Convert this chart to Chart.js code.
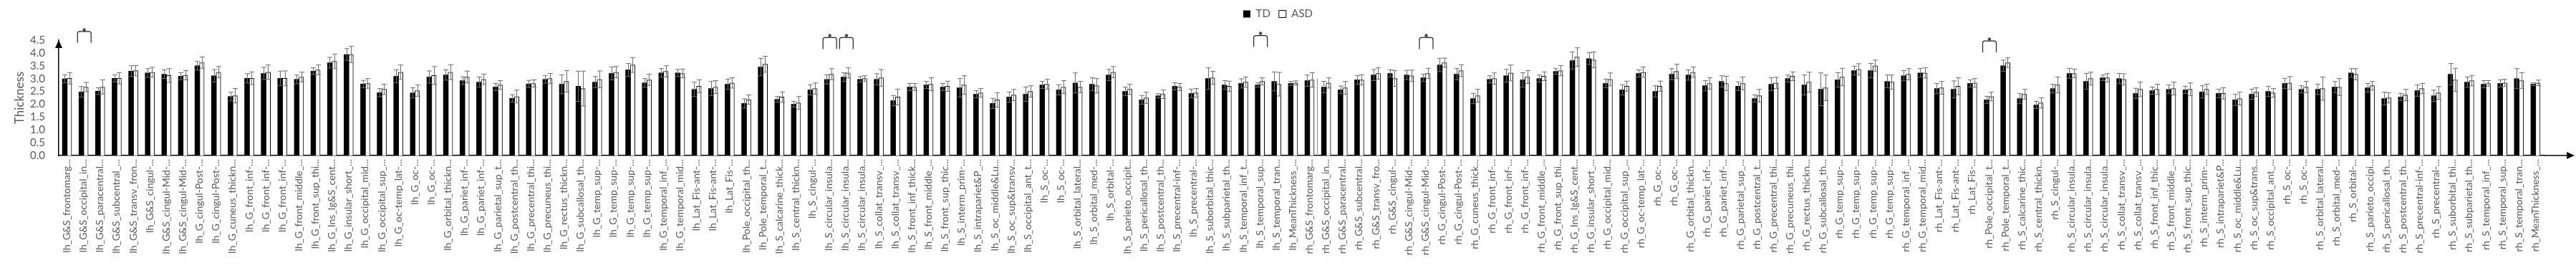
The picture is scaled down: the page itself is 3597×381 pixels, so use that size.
<!DOCTYPE html>
<html lang="en">
<head>
<meta charset="UTF-8">
<title>Cortical thickness TD vs ASD</title>
<script src="https://cdn.jsdelivr.net/npm/chart.js"></script>
<style>
  html, body { margin: 0; padding: 0; background: #fff; }
  #wrap { width: 3597px; height: 381px; }
</style>
</head>
<body>
<div id="wrap"><canvas id="thickChart" width="3597" height="381"></canvas></div>
<script>
// category labels, as shown (truncated) under the axis
const lhLabels = [
  "lh_G&S_frontomarg...", "lh_G&S_occipital_in...", "lh_G&S_paracentral...", "lh_G&S_subcentral_...",
  "lh_G&S_transv_fron...", "lh_G&S_cingul-...", "lh_G&S_cingul-Mid-...", "lh_G&S_cingul-Mid-...",
  "lh_G_cingul-Post-...", "lh_G_cingul-Post-...", "lh_G_cuneus_thickn...", "lh_G_front_inf-...",
  "lh_G_front_inf-...", "lh_G_front_inf-...", "lh_G_front_middle_...", "lh_G_front_sup_thi...",
  "lh_G_Ins_lg&S_cent...", "lh_G_insular_short_...", "lh_G_occipital_mid...", "lh_G_occipital_sup_...",
  "lh_G_oc-temp_lat-...", "lh_G_oc-...", "lh_G_oc-...", "lh_G_orbital_thickn...",
  "lh_G_pariet_inf-...", "lh_G_pariet_inf-...", "lh_G_parietal_sup_t...", "lh_G_postcentral_th...",
  "lh_G_precentral_thi...", "lh_G_precuneus_thi...", "lh_G_rectus_thickn...", "lh_G_subcallosal_th...",
  "lh_G_temp_sup-...", "lh_G_temp_sup-...", "lh_G_temp_sup-...", "lh_G_temp_sup-...",
  "lh_G_temporal_inf_...", "lh_G_temporal_mid...", "lh_Lat_Fis-ant-...", "lh_Lat_Fis-ant-...",
  "lh_Lat_Fis-...", "lh_Pole_occipital_th...", "lh_Pole_temporal_t...", "lh_S_calcarine_thick...",
  "lh_S_central_thickn...", "lh_S_cingul-...", "lh_S_circular_insula...", "lh_S_circular_insula...",
  "lh_S_circular_insula...", "lh_S_collat_transv_...", "lh_S_collat_transv_...", "lh_S_front_inf_thick...",
  "lh_S_front_middle_...", "lh_S_front_sup_thic...", "lh_S_interm_prim-...", "lh_S_intrapariet&P_...",
  "lh_S_oc_middle&Lu...", "lh_S_oc_sup&transv...", "lh_S_occipital_ant_t...", "lh_S_oc-...",
  "lh_S_oc-...", "lh_S_orbital_lateral...", "lh_S_orbital_med-...", "lh_S_orbital-...",
  "lh_S_parieto_occipit...", "lh_S_pericallosal_th...", "lh_S_postcentral_th...", "lh_S_precentral-inf-...",
  "lh_S_precentral-...", "lh_S_suborbital_thic...", "lh_S_subparietal_th...", "lh_S_temporal_inf_t...",
  "lh_S_temporal_sup...", "lh_S_temporal_tran...", "lh_MeanThickness_..."
];
const rhLabels = [
  "rh_G&S_frontomarg...", "rh_G&S_occipital_in...", "rh_G&S_paracentral...", "rh_G&S_subcentral...",
  "rh_G&S_transv_fro...", "rh_G&S_cingul-...", "rh_G&S_cingul-Mid-...", "rh_G&S_cingul-Mid-...",
  "rh_G_cingul-Post-...", "rh_G_cingul-Post-...", "rh_G_cuneus_thick...", "rh_G_front_inf-...",
  "rh_G_front_inf-...", "rh_G_front_inf-...", "rh_G_front_middle_...", "rh_G_front_sup_thi...",
  "rh_G_Ins_lg&S_cent...", "rh_G_insular_short_...", "rh_G_occipital_mid...", "rh_G_occipital_sup_...",
  "rh_G_oc-temp_lat-...", "rh_G_oc-...", "rh_G_oc-...", "rh_G_orbital_thickn...",
  "rh_G_pariet_inf-...", "rh_G_pariet_inf-...", "rh_G_parietal_sup_...", "rh_G_postcentral_t...",
  "rh_G_precentral_thi...", "rh_G_precuneus_thi...", "rh_G_rectus_thickn...", "rh_G_subcallosal_th...",
  "rh_G_temp_sup-...", "rh_G_temp_sup-...", "rh_G_temp_sup-...", "rh_G_temp_sup-...",
  "rh_G_temporal_inf_...", "rh_G_temporal_mid...", "rh_Lat_Fis-ant-...", "rh_Lat_Fis-ant-...",
  "rh_Lat_Fis-...", "rh_Pole_occipital_t...", "rh_Pole_temporal_t...", "rh_S_calcarine_thic...",
  "rh_S_central_thickn...", "rh_S_cingul-...", "rh_S_circular_insula...", "rh_S_circular_insula...",
  "rh_S_circular_insula...", "rh_S_collat_transv_...", "rh_S_collat_transv_...", "rh_S_front_inf_thic...",
  "rh_S_front_middle_...", "rh_S_front_sup_thic...", "rh_S_interm_prim-...", "rh_S_intrapariet&P...",
  "rh_S_oc_middle&Lu...", "rh_S_oc_sup&trans...", "rh_S_occipital_ant_...", "rh_S_oc-...",
  "rh_S_oc-...", "rh_S_orbital_lateral...", "rh_S_orbital_med-...", "rh_S_orbital-...",
  "rh_S_parieto_occipi...", "rh_S_pericallosal_th...", "rh_S_postcentral_th...", "rh_S_precentral-inf-...",
  "rh_S_precentral-...", "rh_S_suborbital_thi...", "rh_S_subparietal_th...", "rh_S_temporal_inf_...",
  "rh_S_temporal_sup...", "rh_S_temporal_tran...", "rh_MeanThickness_..."
];

// mean thickness per group
const tdLh = [2.99,2.48,2.51,3.01,3.29,3.22,3.17,3.09,3.50,3.11, 2.30,3.01,3.20,3.01,2.97,3.29,3.62,3.94,2.79,2.45,
  3.09,2.44,3.06,3.14,2.92,2.86,2.67,2.23,2.79,2.97, 2.78,2.70,2.86,3.20,3.34,2.83,3.22,3.22,2.58,2.61,
  2.78,2.03,3.45,2.19,2.00,2.56,2.97,3.06,2.97,2.97, 2.14,2.67,2.75,2.67,2.64,2.39,2.03,2.28,2.39,2.75,
  2.56,2.83,2.78,3.14,2.50,2.17,2.33,2.70,2.42,3.00, 2.75,2.81,2.75,2.89,2.81];
const tdRh = [2.92,2.67,2.56,2.95,3.14,3.20,3.14,3.03,3.53,3.17, 2.22,2.97,3.11,2.95,3.00,3.28,3.70,3.78,2.81,2.56,
  3.20,2.50,3.17,3.14,2.72,2.89,2.70,2.22,2.78,3.00, 2.75,2.58,2.95,3.31,3.31,2.89,3.11,3.22,2.61,2.58,
  2.81,2.17,3.50,2.22,1.97,2.61,3.20,2.89,3.03,3.00, 2.42,2.53,2.58,2.56,2.48,2.42,2.17,2.39,2.50,2.81,
  2.58,2.58,2.67,3.22,2.64,2.22,2.28,2.53,2.33,3.17, 2.86,2.78,2.81,3.00,2.78];
const asdLh = [3.01,2.67,2.67,3.01,3.31,3.25,3.12,3.13,3.62,3.25, 2.33,3.01,3.25,3.01,3.06,3.34,3.67,3.94,2.81,2.58,
  3.25,2.53,3.12,3.25,3.06,2.97,2.75,2.30,2.81,3.00, 2.89,2.61,2.97,3.25,3.53,2.95,3.28,3.20,2.70,2.67,
  2.83,2.18,3.56,2.28,2.05,2.61,3.17,3.22,3.00,3.03, 2.28,2.67,2.78,2.70,2.75,2.44,2.17,2.36,2.50,2.78,
  2.67,2.67,2.72,3.25,2.58,2.25,2.39,2.67,2.44,3.03, 2.70,2.86,2.89,2.78,2.83];
const asdRh = [2.95,2.83,2.64,2.95,3.20,3.00,3.11,3.20,3.62,3.31, 2.33,3.00,3.22,3.06,3.09,3.31,3.84,3.73,2.97,2.70,
  3.25,2.70,3.28,3.25,2.81,2.81,2.81,2.33,2.83,3.09, 2.86,2.64,3.06,3.36,3.50,2.86,3.17,3.22,2.64,2.70,
  2.83,2.30,3.62,2.39,2.05,2.75,3.20,3.00,3.03,2.97, 2.58,2.58,2.61,2.58,2.58,2.42,2.22,2.47,2.44,2.83,
  2.67,2.61,2.67,3.17,2.72,2.25,2.36,2.61,2.44,2.95, 2.92,2.81,2.83,2.92,2.83];

// standard deviations (error bars)
const tdSdLh = [.16,.21,.13,.14,.21,.17,.17,.14,.17,.24, .17,.18,.24,.28,.17,.13,.21,.23,.14,.16,
  .25,.20,.24,.20,.15,.20,.14,.14,.14,.15, .37,.59,.22,.25,.25,.17,.17,.14,.28,.28,
  .20,.18,.34,.11,.11,.20,.18,.17,.11,.22, .20,.14,.14,.14,.36,.14,.20,.20,.28,.14,
  .20,.39,.25,.22,.17,.17,.08,.14,.17,.42, .17,.18,.08,.37,.08];
const tdSdRh = [.22,.22,.15,.17,.22,.14,.18,.14,.26,.22, .20,.14,.25,.28,.14,.11,.34,.23,.17,.20,
  .14,.22,.22,.20,.20,.22,.17,.14,.25,.14, .39,.64,.28,.17,.28,.25,.20,.17,.20,.33,
  .14,.14,.22,.20,.14,.17,.20,.31,.11,.20, .20,.14,.17,.14,.24,.17,.22,.20,.20,.20,
  .14,.20,.22,.17,.17,.25,.14,.22,.22,.42, .20,.14,.14,.39,.06];
const asdSdLh = [.22,.18,.28,.22,.20,.19,.27,.18,.22,.22, .28,.25,.28,.29,.19,.19,.28,.32,.19,.20,
  .28,.22,.35,.29,.23,.20,.17,.25,.14,.20, .42,.68,.33,.22,.29,.22,.22,.17,.25,.25,
  .20,.18,.31,.20,.25,.22,.22,.20,.11,.33, .31,.14,.25,.20,.36,.17,.28,.22,.22,.19,
  .25,.22,.28,.22,.20,.22,.17,.14,.17,.25, .20,.20,.14,.46,.08];
const asdSdRh = [.28,.20,.25,.20,.22,.31,.22,.20,.18,.23, .25,.22,.31,.25,.17,.20,.36,.31,.25,.20,
  .20,.20,.28,.20,.22,.28,.25,.25,.22,.17, .39,.50,.34,.22,.22,.28,.22,.20,.25,.33,
  .17,.17,.19,.19,.20,.31,.17,.25,.17,.22, .28,.20,.25,.25,.20,.22,.25,.17,.17,.25,
  .22,.45,.33,.22,.17,.20,.22,.20,.25,.45, .20,.11,.14,.31,.11];

// significant differences: category index and bracket height (thickness units)
const sigIndex = [1, 46, 47, 72, 82, 116];
const sigLevel = [4.84, 4.6, 4.6, 4.68, 4.6, 4.47];

const labels = lhLabels.concat(rhLabels);
const tdMean = tdLh.concat(tdRh);
const asdMean = asdLh.concat(asdRh);
const tdSd = tdSdLh.concat(tdSdRh);
const asdSd = asdSdLh.concat(asdSdRh);

const grey = '#595959';
const fontFam = 'Lato, "Open Sans", sans-serif';

// make room under the legend so the plot starts at the right height
const legendSpace = {
  id: 'legendSpace',
  beforeInit(chart) {
    const fit = chart.legend.fit;
    chart.legend.fit = function () { fit.call(this); this.height = 56; };
  }
};

// error bars on every bar
const errorBars = {
  id: 'errorBars',
  afterDatasetsDraw(chart) {
    const ctx = chart.ctx;
    const y = chart.scales.y;
    const sds = [tdSd, asdSd];
    ctx.save();
    ctx.strokeStyle = '#6e6e6e';
    ctx.lineWidth = 1;
    chart.data.datasets.forEach((ds, di) => {
      const meta = chart.getDatasetMeta(di);
      meta.data.forEach((bar, i) => {
        const v = ds.data[i], sd = sds[di][i];
        const x = Math.round(bar.x) + 0.5;
        const top = y.getPixelForValue(v + sd), bot = y.getPixelForValue(v - sd);
        ctx.beginPath();
        ctx.moveTo(x, top); ctx.lineTo(x, bot);
        ctx.moveTo(x - 3.5, top); ctx.lineTo(x + 3.5, top);
        ctx.moveTo(x - 3.5, bot); ctx.lineTo(x + 3.5, bot);
        ctx.stroke();
      });
    });
    // stray divider line that sits next to rh_G&S_frontomarg in the original
    const xs = chart.scales.x;
    const dx = xs.getPixelForValue(75.43);
    ctx.strokeStyle = '#8c8c8c';
    ctx.beginPath();
    ctx.moveTo(Math.round(dx) + 0.5, y.getPixelForValue(0));
    ctx.lineTo(Math.round(dx) + 0.5, y.getPixelForValue(3.0));
    ctx.stroke();
    ctx.restore();
  }
};

// significance brackets with asterisks
const sigBrackets = {
  id: 'sigBrackets',
  afterDraw(chart) {
    const ctx = chart.ctx;
    const xs = chart.scales.x, ys = chart.scales.y;
    ctx.save();
    ctx.strokeStyle = '#222';
    ctx.fillStyle = '#000';
    ctx.lineWidth = 1.2;
    ctx.font = 'bold 15px ' + fontFam;
    ctx.textAlign = 'center';
    ctx.textBaseline = 'middle';
    sigIndex.forEach((idx, k) => {
      const cx = xs.getPixelForValue(idx) + 1;
      const top = ys.getPixelForValue(sigLevel[k]);
      const l = cx - 9.5, r = cx + 9.5, leg = top + 16, rad = 3;
      ctx.beginPath();
      ctx.moveTo(l, leg);
      ctx.lineTo(l, top + rad);
      ctx.quadraticCurveTo(l, top, l + rad, top);
      ctx.lineTo(r - rad, top);
      ctx.quadraticCurveTo(r, top, r, top + rad);
      ctx.lineTo(r, leg);
      ctx.stroke();
      ctx.fillText('*', cx, top + 1);
    });
    ctx.restore();
  }
};

// arrow heads on both axes
const axisArrows = {
  id: 'axisArrows',
  afterDraw(chart) {
    const ctx = chart.ctx, a = chart.chartArea;
    ctx.save();
    ctx.strokeStyle = '#000';
    ctx.fillStyle = '#000';
    ctx.lineWidth = 1.5;
    ctx.beginPath();
    ctx.moveTo(a.right, a.bottom); ctx.lineTo(a.right + 34, a.bottom);
    ctx.stroke();
    ctx.beginPath();
    ctx.moveTo(a.right + 43, a.bottom);
    ctx.lineTo(a.right + 32, a.bottom - 5);
    ctx.lineTo(a.right + 32, a.bottom + 5);
    ctx.closePath(); ctx.fill();
    ctx.beginPath();
    ctx.moveTo(a.left, a.top);
    ctx.lineTo(a.left - 5, a.top + 11);
    ctx.lineTo(a.left + 5, a.top + 11);
    ctx.closePath(); ctx.fill();
    ctx.restore();
  }
};

const ctx = document.getElementById('thickChart').getContext('2d');
new Chart(ctx, {
  type: 'bar',
  data: {
    labels: labels,
    datasets: [
      { label: 'TD', data: tdMean, backgroundColor: '#000', borderColor: '#000', borderWidth: 0 },
      { label: 'ASD', data: asdMean, backgroundColor: '#fff', borderColor: '#000', borderWidth: 1 }
    ]
  },
  options: {
    responsive: false,
    animation: false,
    barThickness: 6.5,
    layout: { padding: { left: 17, right: 45, top: 0, bottom: 0 } },
    plugins: {
      tooltip: { enabled: false },
      legend: {
        position: 'top',
        labels: {
          color: grey,
          font: { family: fontFam, size: 15 },
          boxWidth: 10, boxHeight: 10, padding: 12
        }
      }
    },
    scales: {
      x: {
        grid: { display: false, drawTicks: false },
        border: { display: true, color: '#000', width: 1.5 },
        ticks: {
          autoSkip: false, minRotation: 90, maxRotation: 90, padding: 5,
          color: grey, font: { family: fontFam, size: 14 }
        },
        afterFit(scale) { scale.height = 164; }
      },
      y: {
        min: 0, max: 4.5,
        grid: { display: false, drawTicks: false },
        border: { display: true, color: '#000', width: 1.5 },
        ticks: {
          stepSize: 0.5, autoSkip: false, maxTicksLimit: 12, padding: 19, color: grey,
          font: { family: fontFam, size: 15, lineHeight: 1 },
          callback: v => Number(v).toFixed(1)
        },
        title: {
          display: true, text: 'Thickness', color: grey,
          font: { family: fontFam, size: 17 }, padding: 0
        },
        afterFit(scale) { scale.width = 65; }
      }
    }
  },
  plugins: [legendSpace, errorBars, sigBrackets, axisArrows]
});
</script>
</body>
</html>
